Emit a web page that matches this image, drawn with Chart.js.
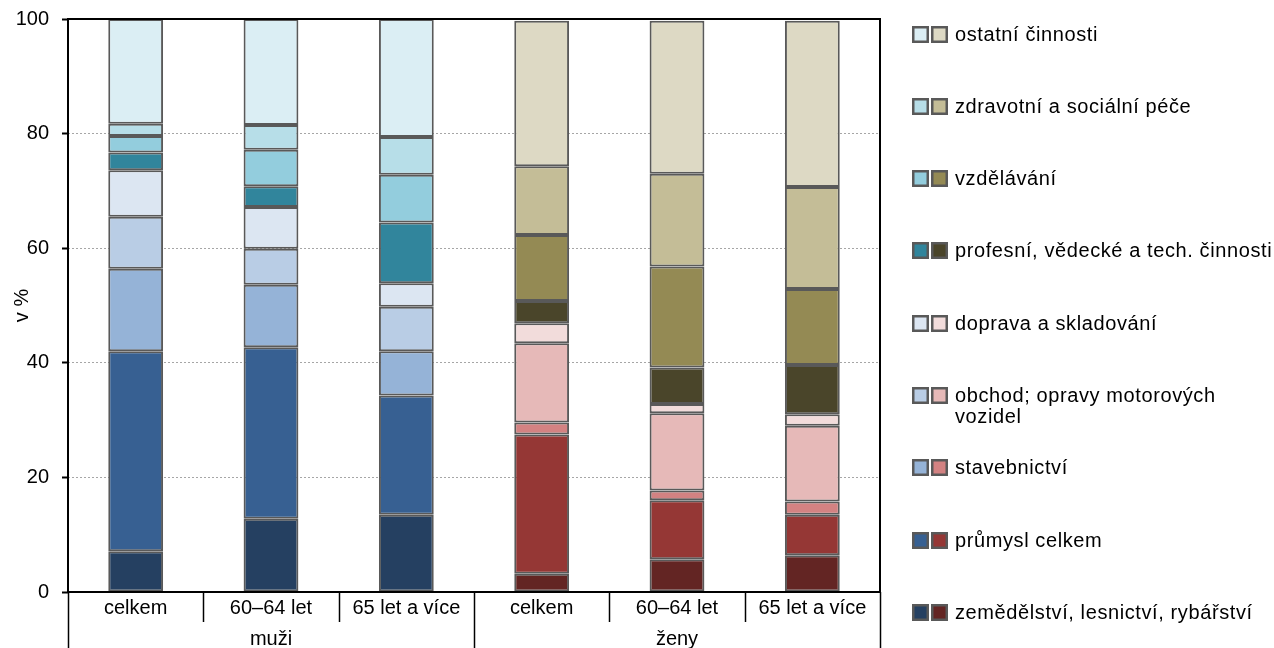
<!DOCTYPE html>
<html>
<head>
<meta charset="utf-8">
<script src="https://cdn.jsdelivr.net/npm/chart.js@4"></script>
<style>
  html, body { margin: 0; padding: 0; background: #fff; }
</style>
</head>
<body>
<canvas id="myChart" width="1274" height="648"></canvas>
<script>
// Data
var categories = ["celkem", "60–64 let", "65 let a více", "celkem", "60–64 let", "65 let a více"];
var groups = ["muži", "ženy"];
var groupSize = 3;

// sectors, bottom of the stack first
var sectors = [
  "zemědělství, lesnictví, rybářství",
  "průmysl celkem",
  "stavebnictví",
  ["obchod; opravy motorových", "vozidel"],
  "doprava a skladování",
  "profesní, vědecké a tech. činnosti",
  "vzdělávání",
  "zdravotní a sociální péče",
  "ostatní činnosti"
];

var zemedelstvi = [7.1, 12.8, 13.5, 3.2, 5.7, 6.4];
var prumysl     = [34.9, 29.9, 20.8, 24.3, 10.3, 7.1];
var stavebnictvi = [14.4, 10.9, 7.7, 2.1, 1.7, 2.3];
var obchod      = [9.1, 6.3, 7.8, 13.8, 13.5, 13.2];
var doprava     = [8.1, 7.3, 4.1, 3.5, 1.6, 2.0];
var profesni    = [3.1, 3.6, 10.6, 3.9, 6.4, 8.6];
var vzdelavani  = [2.9, 6.4, 8.3, 11.5, 17.6, 13.3];
var zdravotni   = [2.1, 4.3, 6.6, 12.0, 16.2, 17.8];
var ostatni     = [18.3, 18.5, 20.6, 25.4, 26.7, 29.0];

var seriesValues = [zemedelstvi, prumysl, stavebnictvi, obchod, doprava, profesni, vzdelavani, zdravotni, ostatni];

var yTicks = [0, 20, 40, 60, 80, 100];

// colours: men (blue) and women (brown/red)
var menColors = ["#254061", "#376092", "#95B3D7", "#B9CDE5", "#DCE6F2", "#31859C", "#93CDDD", "#B7DEE8", "#DBEEF4"];
var womenColors = ["#632523", "#953735", "#D38282", "#E6B9B8", "#F2DCDB", "#4A452A", "#948A54", "#C4BD97", "#DDD9C4"];

var FONT = "'Liberation Sans', Arial, sans-serif";
var BORDER = "#595959";

var datasets = seriesValues.map(function (vals, i) {
  var colors = categories.map(function (c, j) {
    return j < groupSize ? menColors[i] : womenColors[i];
  });
  return {
    label: Array.isArray(sectors[i]) ? sectors[i].join(" ") : sectors[i],
    data: vals,
    backgroundColor: colors,
    borderColor: BORDER,
    borderWidth: 2,
    borderSkipped: false,
    barPercentage: 0.405,
    categoryPercentage: 1.0
  };
});

// frame, category separators, group labels, legend
var extras = {
  id: "extras",
  afterDatasetsDraw: function (chart) {
    var ctx = chart.ctx;
    var a = chart.chartArea;
    var x = chart.scales.x;
    ctx.save();
    ctx.strokeStyle = "#000";
    ctx.lineWidth = 2;
    ctx.strokeRect(a.left, a.top, a.right - a.left, a.bottom - a.top);

    // separators under the axis
    ctx.lineWidth = 1.5;
    for (var i = 0; i <= categories.length; i++) {
      var px;
      if (i === 0) px = a.left;
      else if (i === categories.length) px = a.right;
      else px = (x.getPixelForValue(i - 1) + x.getPixelForValue(i)) / 2;
      var full = i % groupSize === 0;
      ctx.beginPath();
      ctx.moveTo(Math.round(px) + 0.5, a.bottom);
      ctx.lineTo(Math.round(px) + 0.5, full ? 648 : a.bottom + 30);
      ctx.stroke();
    }

    // group labels
    ctx.fillStyle = "#000";
    ctx.font = "20px " + FONT;
    ctx.textAlign = "center";
    ctx.textBaseline = "middle";
    groups.forEach(function (g, gi) {
      var c = x.getPixelForValue(gi * groupSize + (groupSize - 1) / 2);
      ctx.fillText(g, c, 639);
    });

    // legend, top item = last dataset
    ctx.textAlign = "left";
    ctx.letterSpacing = "0.6px";
    var n = sectors.length;
    for (var k = 0; k < n; k++) {
      var si = n - 1 - k;
      var cy = 34 + k * 72.3;
      [[912, menColors[si]], [931, womenColors[si]]].forEach(function (sq) {
        ctx.fillStyle = BORDER;
        ctx.fillRect(sq[0], Math.round(cy - 8.5), 17, 17);
        ctx.fillStyle = sq[1];
        ctx.fillRect(sq[0] + 2.5, Math.round(cy - 8.5) + 2.5, 12, 12);
      });
      ctx.fillStyle = "#000";
      var lines = Array.isArray(sectors[si]) ? sectors[si] : [sectors[si]];
      lines.forEach(function (t, li) {
        ctx.fillText(t, 955, cy + 1 + li * 21);
      });
    }
    ctx.restore();
  }
};

var ctx = document.getElementById("myChart").getContext("2d");

var myChart = new Chart(ctx, {
  type: "bar",
  data: {
    labels: categories,
    datasets: datasets
  },
  options: {
    responsive: false,
    animation: false,
    layout: { padding: { top: 19, right: 394, bottom: 0, left: 0 } },
    plugins: {
      legend: { display: false },
      tooltip: { enabled: false }
    },
    scales: {
      x: {
        stacked: true,
        grid: { display: false, drawTicks: false },
        border: { display: false },
        ticks: {
          color: "#000",
          font: { family: FONT, size: 20 },
          padding: 4,
          maxRotation: 0,
          autoSkip: false
        },
        afterFit: function (s) { s.height = 56; }
      },
      y: {
        stacked: true,
        min: 0,
        max: 100,
        afterBuildTicks: function (s) {
          s.ticks = yTicks.map(function (v) { return { value: v }; });
        },
        grid: {
          color: "#A6A6A6",
          lineWidth: 1,
          tickColor: "#000",
          tickWidth: 2,
          tickLength: 6,
          tickBorderDash: []
        },
        border: { display: false, dash: [2, 2] },
        ticks: {
          color: "#000",
          font: { family: FONT, size: 20, lineHeight: 0.5 },
          padding: 13
        },
        title: {
          display: true,
          text: "v %",
          color: "#000",
          font: { family: FONT, size: 20 },
          padding: { top: 10, bottom: 0 }
        },
        afterFit: function (s) { s.width = 68; }
      }
    }
  },
  plugins: [extras]
});
</script>
</body>
</html>
